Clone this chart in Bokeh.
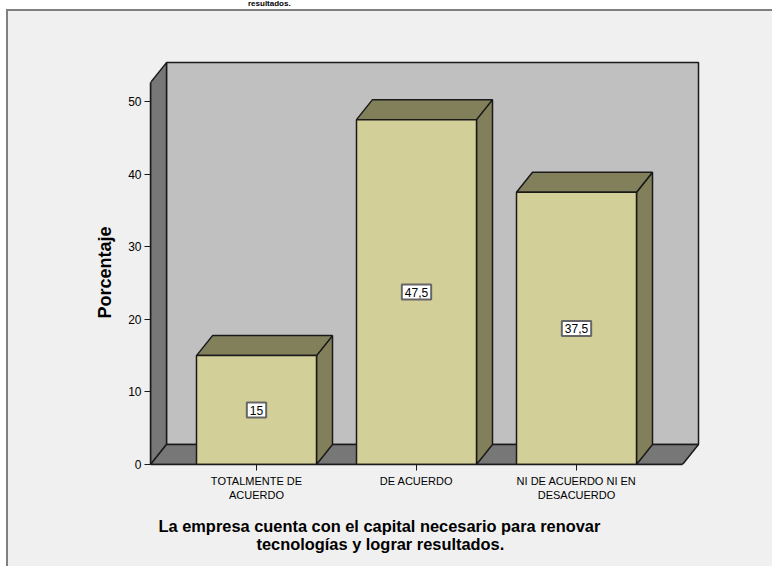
from bokeh.plotting import figure
from bokeh.models import Range1d, FixedTicker, Title, Div, Spacer, GlobalInlineStyleSheet
from bokeh.layouts import column, row
from bokeh.embed import file_html
from bokeh.resources import INLINE
from bokeh.core.properties import value

# ---- data ----
categories = ["TOTALMENTE DE\nACUERDO", "DE ACUERDO", "NI DE ACUERDO NI EN\nDESACUERDO"]
percentages = [15, 47.5, 37.5]
value_labels = ["15", "47,5", "37,5"]
y_ticks = [0, 10, 20, 30, 40, 50]
x_title_lines = ["La empresa cuenta con el capital necesario para renovar",
                 "tecnologías y lograr resultados."]
y_title = "Porcentaje"
top_title = "resultados."

# ---- geometry (pseudo 3-D) ----
positions = [1, 2, 3]
half = 0.375          # half bar width in category units
px_per_unit = 7.26
dx = 0.1              # depth offset in x (category units)
dy = 20 / px_per_unit # depth offset in y (value units)
x0, x1 = 0.3375, 3.6625
wall_top = 52.6

FONT = "Liberation Sans"
EDGE = "#1a1a1a"
BG = "#f0f0f0"

FIG_W, FIG_H = 764, 555
HIDE = {"overflow": "hidden"}

p = figure(width=FIG_W, height=FIG_H,
           x_range=Range1d(0.3375, 3.775), y_range=Range1d(0, 409 / px_per_unit),
           output_backend="svg", toolbar_location=None,
           min_border_left=142, min_border_right=72,
           min_border_top=44, min_border_bottom=FIG_H - 453)
p.grid.grid_line_color = None
p.outline_line_color = None
p.background_fill_color = BG
p.border_fill_color = BG

# back wall
p.quad(left=x0 + dx, right=x1 + dx, bottom=dy, top=wall_top + dy,
       fill_color="#c0c0c0", line_color=EDGE, line_width=1.5)
# left wall
p.patch([x0, x0, x0 + dx, x0 + dx], [0, wall_top, wall_top + dy, dy],
        fill_color="#777777", line_color=EDGE, line_width=1.5)
# floor
p.patch([x0, x1, x1 + dx, x0 + dx], [0, 0, dy, dy],
        fill_color="#777777", line_color=EDGE, line_width=1.5)

# bars
lefts = [c - half for c in positions]
rights = [c + half for c in positions]
top_xs = [[l, l + dx, r + dx, r] for l, r in zip(lefts, rights)]
top_ys = [[v, v + dy, v + dy, v] for v in percentages]
side_xs = [[r, r, r + dx, r + dx] for r in rights]
side_ys = [[0, v, v + dy, dy] for v in percentages]
p.patches(side_xs, side_ys, fill_color="#827f5b", line_color=EDGE, line_width=1.5)
p.patches(top_xs, top_ys, fill_color="#827f5b", line_color=EDGE, line_width=1.5)
p.quad(left=lefts, right=rights, bottom=0, top=percentages,
       fill_color="#d3cf98", line_color=EDGE, line_width=1.5)

# value labels
p.text(x=positions, y=[v / 2 for v in percentages], text=value_labels,
       text_align="center", text_baseline="middle",
       text_font=value(FONT), text_font_size="12px", text_color="black",
       background_fill_color="white", border_line_color="#666666",
       border_line_width=2, padding=3)

# axes
ya = p.yaxis[0]
ya.ticker = FixedTicker(ticks=y_ticks)
ya.bounds = (0, wall_top)
ya.axis_line_color = EDGE
ya.axis_line_width = 1.5
ya.major_tick_out = 6
ya.major_tick_in = 0
ya.major_tick_line_color = EDGE
ya.minor_tick_line_color = None
ya.major_label_text_font = FONT
ya.major_label_text_font_size = "12px"
ya.major_label_text_color = "black"
ya.major_label_standoff = 3

xa = p.xaxis[0]
xa.ticker = FixedTicker(ticks=positions)
xa.major_label_overrides = {pos: cat for pos, cat in zip(positions, categories)}
xa.bounds = (x0, x1)
xa.axis_line_color = EDGE
xa.axis_line_width = 1.5
xa.major_tick_out = 6
xa.major_tick_in = 0
xa.major_tick_line_color = EDGE
xa.minor_tick_line_color = None
xa.major_label_text_font = FONT
xa.major_label_text_font_size = "11px"
xa.major_label_text_color = "black"
xa.major_label_standoff = 4

# axis titles (as side-panel titles so they can be placed like the reference)
p.add_layout(Title(text=y_title, align="left", offset=146, standoff=22,
                   text_font=FONT, text_font_size="18px", text_font_style="bold",
                   text_color="black"), "left")
p.add_layout(Title(text=x_title_lines[0], align="left", offset=8,
                   vertical_align="bottom", standoff=23,
                   text_font=FONT, text_font_size="16.4px",
                   text_font_style="bold", text_color="black"), "below")
p.add_layout(Title(text=x_title_lines[1], align="left", offset=106,
                   vertical_align="top", standoff=-23,
                   text_font=FONT, text_font_size="16.4px",
                   text_font_style="bold", text_color="black"), "below")

# page frame: white margin, grey rule lines, chart panel
top_div = Div(text=top_title, width=772, height=9, margin=0,
              styles={"font-family": "'Liberation Sans'", "font-size": "8px",
                      "font-weight": "bold", "line-height": "8px",
                      "padding-left": "248px", "color": "black",
                      "background-color": "white", "overflow": "hidden"})
hline = Spacer(width=766, height=2, margin=0, styles={"background-color": "#808080"})
vline = Spacer(width=2, height=FIG_H, margin=0, styles={"background-color": "#808080"})
left_white = Spacer(width=6, height=FIG_H + 2, margin=0,
                    styles={"background-color": "white"})

inner = column(hline, row(vline, p, spacing=0, styles=HIDE), spacing=0, styles=HIDE)
layout = column(top_div, row(left_white, inner, spacing=0, styles=HIDE),
                spacing=0, styles=HIDE)
layout.stylesheets = [GlobalInlineStyleSheet(
    css="html, body { margin: 0; padding: 0; overflow: hidden; background: %s; }" % BG)]

open("out.html", "w").write(file_html(layout, INLINE))
